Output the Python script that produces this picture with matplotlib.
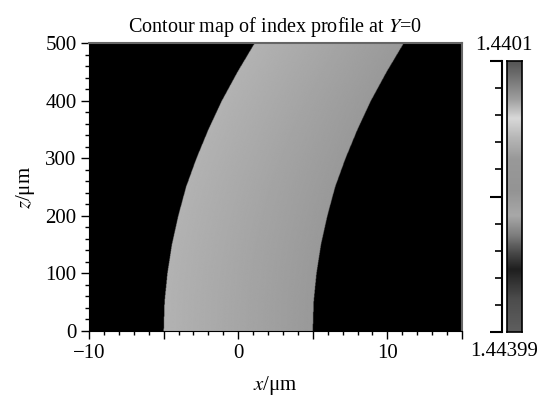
import numpy as np
import matplotlib.pyplot as plt
from matplotlib.colors import LinearSegmentedColormap
from matplotlib.ticker import MultipleLocator, FixedLocator, FuncFormatter

plt.rcParams['font.family'] = 'Liberation Serif'
plt.rcParams['mathtext.fontset'] = 'stix'

# waveguide edge shift (um) at each z (um)
z_pts = [0, 50, 100, 150, 200, 250, 300, 350, 400, 450, 500]
shift_pts = [0, 0.06, 0.25, 0.55, 0.98, 1.5, 2.2, 3.0, 3.9, 4.95, 6.1]
core_left, core_right = -5, 5
gray_left, gray_right = 0.70, 0.60

# colour bar grey levels, from bottom (0) to top (1)
cbar_pos = [0.0, 0.12, 0.17, 0.23, 0.29, 0.36, 0.43, 0.52, 0.64, 0.72, 0.79, 0.86, 0.94, 1.0]
cbar_gray = [0.37, 0.30, 0.22, 0.12, 0.28, 0.50, 0.66, 0.58, 0.60, 0.72, 0.85, 0.62, 0.45, 0.33]
n_min, n_max = '1.44399', '1.4401'

fig = plt.figure(figsize=(5.4, 3.99), dpi=100)
ax = fig.add_axes([89/540, 68/399, 373/540, 288/399])

x = np.linspace(-10, 15, 1000)
z = np.linspace(0, 500, 600)
X, Z = np.meshgrid(x, z)
s = np.interp(Z, z_pts, shift_pts)
u = (X - s - core_left) / (core_right - core_left)
field = np.where((u >= 0) & (u <= 1), gray_left + (gray_right - gray_left) * u, 0.0)
ax.imshow(field, cmap='gray', vmin=0, vmax=1, extent=[-10, 15, 0, 500],
          origin='lower', aspect='auto', interpolation='bilinear')

ax.set_xlim(-10, 15)
ax.set_ylim(0, 500)
ax.xaxis.set_major_locator(MultipleLocator(5))
ax.xaxis.set_minor_locator(MultipleLocator(1))
ax.xaxis.set_major_formatter(FuncFormatter(
    lambda v, p: f'{v:.0f}'.replace('-', '\u2212') if v % 10 == 0 else ''))
ax.yaxis.set_major_locator(MultipleLocator(100))
ax.yaxis.set_minor_locator(MultipleLocator(20))
ax.tick_params(which='major', direction='out', length=6, width=1, labelsize=15, pad=3)
ax.tick_params(which='minor', direction='out', length=3, width=1)
for sp in ['top', 'right']:
    ax.spines[sp].set_color('#666666')
    ax.spines[sp].set_linewidth(1.5)

ax.set_title(r'Contour map of index profile at $Y$=0', fontsize=14.5, pad=8)
ax.set_xlabel(r'$x$/μm', fontsize=15, labelpad=8)
ax.set_ylabel(r'$z$/μm', fontsize=15, labelpad=6)

# colour bar
cmap = LinearSegmentedColormap.from_list('idx', list(zip(cbar_pos, [(g, g, g) for g in cbar_gray])))
cb = [507/540, (399-332)/399, 15/540, 271/399]
cax = fig.add_axes(cb)
grad = np.linspace(0, 1, 256).reshape(-1, 1)
cax.imshow(grad, cmap=cmap, aspect='auto', origin='lower', extent=[0, 1, 0, 1])
cax.set_xticks([])
cax.set_yticks([])
for sp in cax.spines.values():
    sp.set_linewidth(1.2)

tax = fig.add_axes([502/540, cb[1], 0.0001, cb[3]])
tax.patch.set_visible(False)
for sp in ['top', 'right', 'bottom']:
    tax.spines[sp].set_visible(False)
tax.spines['left'].set_linewidth(1.5)
tax.set_xticks([])
tax.set_ylim(0, 10)
tax.yaxis.set_major_locator(FixedLocator([0, 5, 10]))
tax.yaxis.set_minor_locator(MultipleLocator(1))
tax.tick_params(which='major', length=9, width=1.5, labelleft=False)
tax.tick_params(which='minor', length=5, width=1.2)

fig.text(504/540, 1 - 46/399, n_max, ha='center', va='center', fontsize=15)
fig.text(504/540, 1 - 351/399, n_min, ha='center', va='center', fontsize=15)

fig.savefig('out.png', dpi=100)
